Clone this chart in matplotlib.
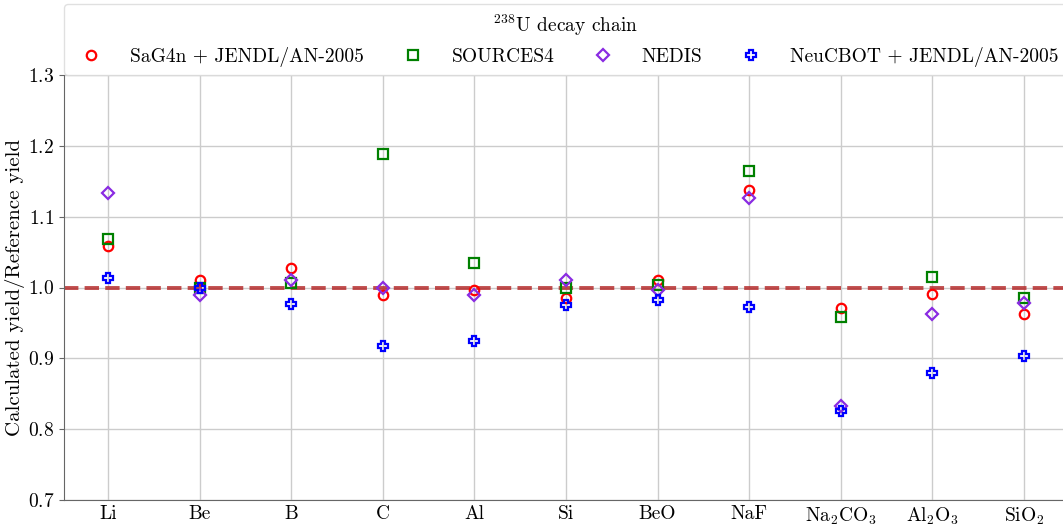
import matplotlib
matplotlib.use("Agg")
import matplotlib.pyplot as plt
import numpy as np

plt.rcParams['font.family'] = ['cmr10', 'DejaVu Serif']
plt.rcParams['mathtext.fontset'] = 'cm'
plt.rcParams['axes.formatter.use_mathtext'] = True
plt.rcParams['axes.unicode_minus'] = False

materials = ['Li', 'Be', 'B', 'C', 'Al', 'Si', 'BeO', 'NaF',
             r'Na$_2$CO$_3$', r'Al$_2$O$_3$', r'SiO$_2$']
sag4n   = [1.059, 1.010, 1.027, 0.990, 0.997, 0.985, 1.011, 1.138, 0.971, 0.991, 0.963]
sources4 = [1.069, 1.000, 1.007, 1.188, 1.035, 1.000, 1.003, 1.165, 0.959, 1.015, 0.985]
nedis   = [1.133, 0.990, 1.010, 0.999, 0.990, 1.011, 0.997, 1.126, 0.833, 0.962, 0.978]
neucbot = [1.014, 0.999, 0.977, 0.918, 0.925, 0.976, 0.983, 0.973, 0.826, 0.880, 0.904]
yticks = [0.7, 0.8, 0.9, 1.0, 1.1, 1.2, 1.3]

fig = plt.figure(figsize=(10.63, 5.27), dpi=100)
ax = fig.add_axes([64/1063, 1 - 500/527, (1068 - 64)/1063, 425/527])

x = np.arange(len(materials))
ax.axhline(1.0, color='#b22222', alpha=0.8, lw=2.8, ls='--', zorder=2)
ax.plot(x, sag4n, 'o', ls='none', mfc='none', mec='red', mew=1.6, ms=6.8,
        label='SaG4n + JENDL/AN-2005', zorder=3)
ax.plot(x, sources4, 's', ls='none', mfc='none', mec='green', mew=1.6, ms=7,
        label='SOURCES4', zorder=3)
ax.plot(x, nedis, 'D', ls='none', mfc='none', mec='#8a2be2', mew=1.6, ms=6.5,
        label='NEDIS', zorder=3)
ax.plot(x, neucbot, 'P', ls='none', mfc='none', mec='blue', mew=1.6, ms=7,
        label='NeuCBOT + JENDL/AN-2005', zorder=3)

ax.set_xlim(-0.48, 10.48)
ax.set_ylim(0.7, 1.3)
ax.set_xticks(x)
ax.set_xticklabels(materials)
ax.set_yticks(yticks)
ax.tick_params(labelsize=14, color='0.4')
ax.tick_params(axis='x', length=0, pad=4)
ax.grid(True, color='0.8', lw=1, zorder=0)
ax.set_axisbelow(True)
ax.set_ylabel('Calculated yield/Reference yield', fontsize=15, labelpad=2)
for s in ['top', 'right']:
    ax.spines[s].set_visible(False)
for s in ['left', 'bottom']:
    ax.spines[s].set_color('0.4')

leg = ax.legend(loc='lower left', bbox_to_anchor=(0, 1.0),
                ncol=4, fontsize=14, title=r'$^{238}$U decay chain', title_fontsize=14,
                borderaxespad=0, frameon=True, handletextpad=1.0, columnspacing=1.5)
leg.get_frame().set_edgecolor('0.85')

fig.savefig('out.png', dpi=100)
